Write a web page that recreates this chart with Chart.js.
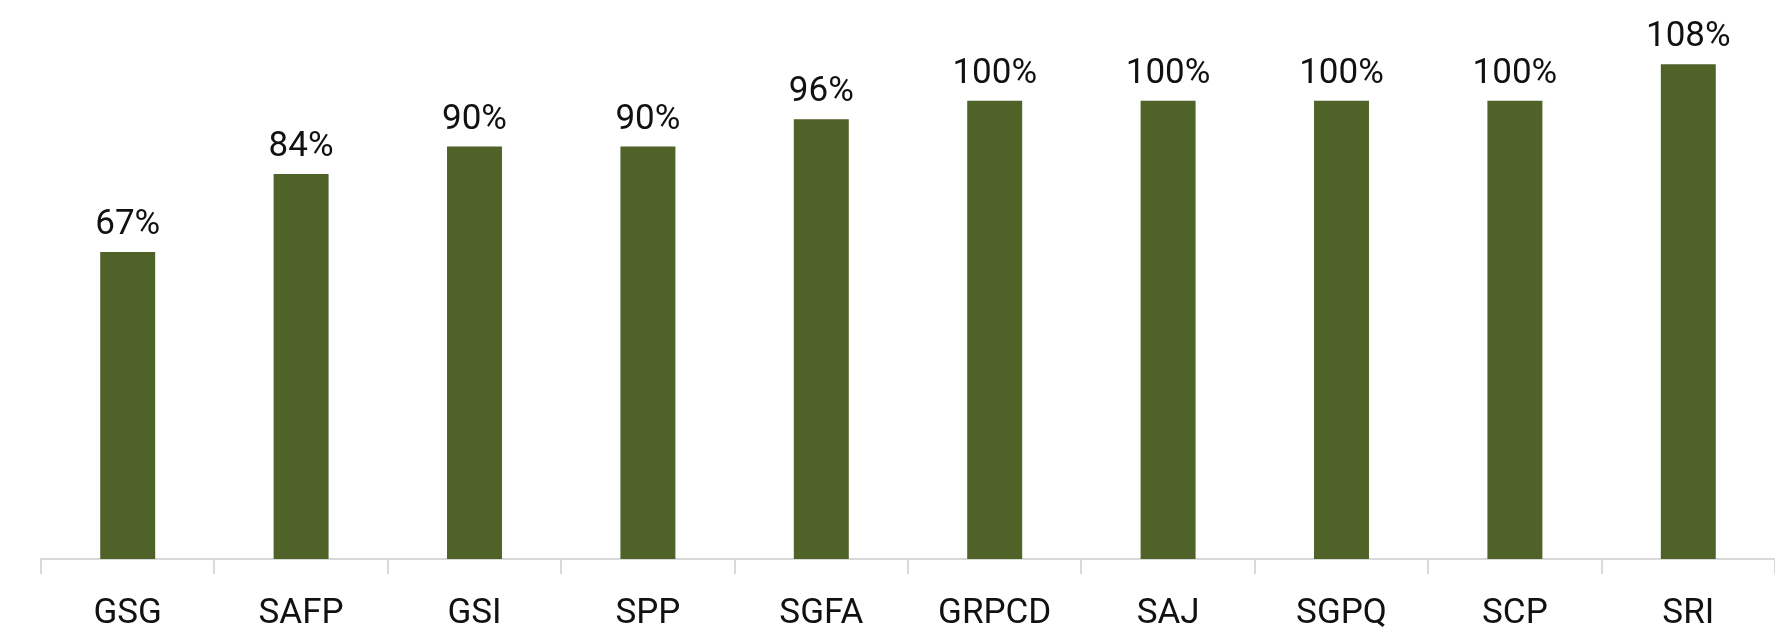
<!DOCTYPE html>
<html>
<head>
<meta charset="utf-8">
<script src="https://cdn.jsdelivr.net/npm/chart.js@4"></script>
<style>
  body { margin: 0; background: #fff; }
  canvas { display: block; }
</style>
</head>
<body>
<canvas id="myChart" width="1775" height="628"></canvas>
<script>
'use strict';

// ====================== DATA ======================//
let categories = ['GSG', 'SAFP', 'GSI', 'SPP', 'SGFA', 'GRPCD', 'SAJ', 'SGPQ', 'SCP', 'SRI'];
let ratios = [67, 84, 90, 90, 96, 100, 100, 100, 100, 108];

let barColor = '#4F6228';
let fontFamily = 'Roboto, "DejaVu Sans Condensed", sans-serif';

// value labels above each bar
let valueLabels = {
  id: 'valueLabels',
  afterDatasetsDraw(chart) {
    let ctx = chart.ctx;
    let meta = chart.getDatasetMeta(0);
    ctx.save();
    ctx.font = '35px ' + fontFamily;
    ctx.fillStyle = '#111';
    ctx.textAlign = 'center';
    ctx.textBaseline = 'alphabetic';
    meta.data.forEach(function (bar, i) {
      ctx.fillText(ratios[i] + '%', bar.x, bar.y - 18);
    });
    ctx.restore();
  }
};

let chartObject = {
  type: 'bar',
  data: {
    labels: categories,
    datasets: [{
      data: ratios,
      backgroundColor: barColor,
      borderWidth: 0,
      categoryPercentage: 1,
      barPercentage: 0.317
    }]
  },
  options: {
    responsive: false,
    devicePixelRatio: 1,
    animation: false,
    layout: { padding: { left: 41, right: 0, top: 0, bottom: 0 } },
    plugins: {
      legend: { display: false },
      tooltip: { enabled: false }
    },
    scales: {
      y: {
        display: false,
        min: 0,
        max: 122
      },
      x: {
        // keep the axis strip a fixed height so the baseline sits where the picture has it
        afterFit: function (scale) { scale.height = 69; },
        border: { display: true, color: '#d9d9d9', width: 2 },
        grid: {
          display: true,
          drawOnChartArea: false,
          drawTicks: true,
          tickLength: 15,
          color: '#d9d9d9',
          lineWidth: 2
        },
        ticks: {
          color: '#111',
          padding: 19,
          font: { family: fontFamily, size: 35 }
        }
      }
    }
  },
  plugins: [valueLabels]
};

let ctx = document.getElementById('myChart').getContext('2d');
let myChart = new Chart(ctx, chartObject);
</script>
</body>
</html>
